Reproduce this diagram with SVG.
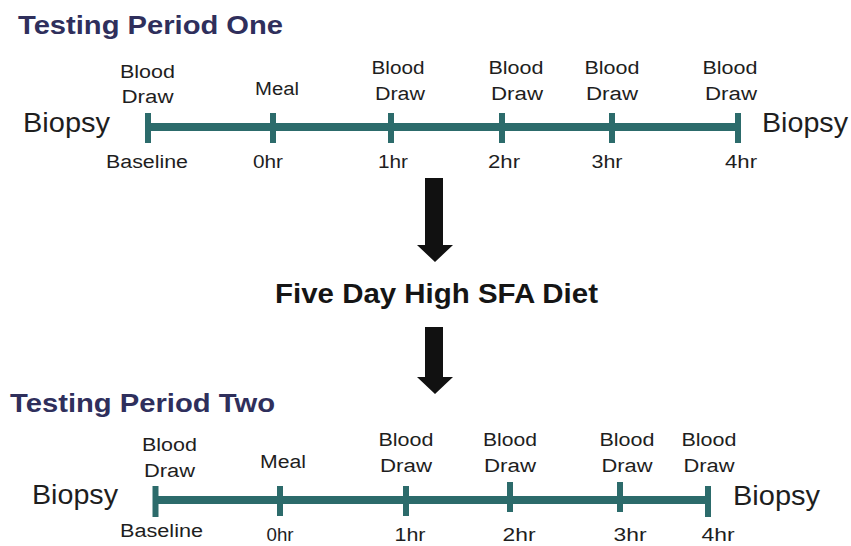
<svg xmlns="http://www.w3.org/2000/svg" width="851" height="546" viewBox="0 0 851 546">
<style>
.title{font-family:"Liberation Sans",Arial,sans-serif;font-weight:bold;font-size:25px;fill:#2f2f5c}
.lbl{font-family:"Liberation Sans",Arial,sans-serif;font-size:18px;fill:#1e1e1e;text-anchor:middle}
.bio{font-family:"Liberation Sans",Arial,sans-serif;font-size:28px;fill:#1e1e1e}
.diet{font-family:"Liberation Sans",Arial,sans-serif;font-weight:bold;font-size:28px;fill:#151515}
.axis{stroke:#2c6b6b;stroke-width:8;fill:none}
.tick{stroke:#2c6b6b;stroke-width:6;fill:none}
.arrow{fill:#111}
</style>
<rect width="851" height="546" fill="#fff"/>

<g id="title-one"><text class="title" x="18" y="34" textLength="265" lengthAdjust="spacingAndGlyphs">Testing Period One</text></g>

<g id="timeline-one">
<line class="axis" x1="147" y1="127" x2="738" y2="127"/>
<line class="tick" x1="148" y1="113" x2="148" y2="143"/>
<line class="tick" x1="273" y1="113" x2="273" y2="143"/>
<line class="tick" x1="391" y1="113" x2="391" y2="143"/>
<line class="tick" x1="502" y1="113" x2="502" y2="143"/>
<line class="tick" x1="612" y1="113" x2="612" y2="143"/>
<line class="tick" x1="738" y1="113" x2="738" y2="143"/>
<text class="bio" x="23" y="132" textLength="87" lengthAdjust="spacingAndGlyphs">Biopsy</text>
<text class="bio" x="762" y="132" textLength="86" lengthAdjust="spacingAndGlyphs">Biopsy</text>
<text class="lbl" x="147.5" y="78" textLength="55" lengthAdjust="spacingAndGlyphs">Blood</text>
<text class="lbl" x="147.5" y="103" textLength="52" lengthAdjust="spacingAndGlyphs">Draw</text>
<text class="lbl" x="277" y="95" textLength="44" lengthAdjust="spacingAndGlyphs">Meal</text>
<text class="lbl" x="398" y="74" textLength="53" lengthAdjust="spacingAndGlyphs">Blood</text>
<text class="lbl" x="400" y="100" textLength="50" lengthAdjust="spacingAndGlyphs">Draw</text>
<text class="lbl" x="516" y="74" textLength="55" lengthAdjust="spacingAndGlyphs">Blood</text>
<text class="lbl" x="517" y="100" textLength="52" lengthAdjust="spacingAndGlyphs">Draw</text>
<text class="lbl" x="612" y="74" textLength="55" lengthAdjust="spacingAndGlyphs">Blood</text>
<text class="lbl" x="612" y="100" textLength="52" lengthAdjust="spacingAndGlyphs">Draw</text>
<text class="lbl" x="730" y="74" textLength="55" lengthAdjust="spacingAndGlyphs">Blood</text>
<text class="lbl" x="731" y="100" textLength="52" lengthAdjust="spacingAndGlyphs">Draw</text>
<text class="lbl" x="147" y="168" textLength="82" lengthAdjust="spacingAndGlyphs">Baseline</text>
<text class="lbl" x="268" y="168" textLength="30" lengthAdjust="spacingAndGlyphs">0hr</text>
<text class="lbl" x="393" y="168" textLength="30" lengthAdjust="spacingAndGlyphs">1hr</text>
<text class="lbl" x="504" y="168" textLength="32" lengthAdjust="spacingAndGlyphs">2hr</text>
<text class="lbl" x="607" y="168" textLength="31" lengthAdjust="spacingAndGlyphs">3hr</text>
<text class="lbl" x="741" y="168" textLength="32" lengthAdjust="spacingAndGlyphs">4hr</text>
</g>

<g id="diet"><text class="diet" x="275" y="303" textLength="323" lengthAdjust="spacingAndGlyphs">Five Day High SFA Diet</text></g>

<g id="title-two"><text class="title" x="10" y="412" textLength="265" lengthAdjust="spacingAndGlyphs">Testing Period Two</text></g>

<g id="timeline-two">
<line class="axis" x1="155" y1="500" x2="708" y2="500"/>
<line class="tick" x1="155.5" y1="486" x2="155.5" y2="517"/>
<line class="tick" x1="280" y1="486" x2="280" y2="516"/>
<line class="tick" x1="406" y1="486" x2="406" y2="516"/>
<line class="tick" x1="510" y1="482" x2="510" y2="512"/>
<line class="tick" x1="620" y1="482" x2="620" y2="512"/>
<line class="tick" x1="708" y1="486" x2="708" y2="517"/>
<text class="bio" x="32" y="504" textLength="86" lengthAdjust="spacingAndGlyphs">Biopsy</text>
<text class="bio" x="733" y="505" textLength="87" lengthAdjust="spacingAndGlyphs">Biopsy</text>
<text class="lbl" x="169.5" y="451" textLength="55" lengthAdjust="spacingAndGlyphs">Blood</text>
<text class="lbl" x="169.5" y="477" textLength="51" lengthAdjust="spacingAndGlyphs">Draw</text>
<text class="lbl" x="283" y="468" textLength="46" lengthAdjust="spacingAndGlyphs">Meal</text>
<text class="lbl" x="406" y="446" textLength="55" lengthAdjust="spacingAndGlyphs">Blood</text>
<text class="lbl" x="406" y="472" textLength="52" lengthAdjust="spacingAndGlyphs">Draw</text>
<text class="lbl" x="510" y="446" textLength="54" lengthAdjust="spacingAndGlyphs">Blood</text>
<text class="lbl" x="510" y="472" textLength="52" lengthAdjust="spacingAndGlyphs">Draw</text>
<text class="lbl" x="627" y="446" textLength="55" lengthAdjust="spacingAndGlyphs">Blood</text>
<text class="lbl" x="627" y="472" textLength="51" lengthAdjust="spacingAndGlyphs">Draw</text>
<text class="lbl" x="709" y="446" textLength="55" lengthAdjust="spacingAndGlyphs">Blood</text>
<text class="lbl" x="709" y="472" textLength="51" lengthAdjust="spacingAndGlyphs">Draw</text>
<text class="lbl" x="161.5" y="537" textLength="83" lengthAdjust="spacingAndGlyphs">Baseline</text>
<text class="lbl" x="280" y="541" textLength="27" lengthAdjust="spacingAndGlyphs">0hr</text>
<text class="lbl" x="410" y="541" textLength="31" lengthAdjust="spacingAndGlyphs">1hr</text>
<text class="lbl" x="519" y="541" textLength="33" lengthAdjust="spacingAndGlyphs">2hr</text>
<text class="lbl" x="630" y="541" textLength="33" lengthAdjust="spacingAndGlyphs">3hr</text>
<text class="lbl" x="718" y="541" textLength="33" lengthAdjust="spacingAndGlyphs">4hr</text>
</g>

<g id="connectors">
<polygon class="arrow" points="425,178 443,178 443,245 453,245 435,262 417,245 425,245"/>
<polygon class="arrow" points="425,327 443,327 443,377 453,377 435,394 417,377 425,377"/>
</g>
</svg>
